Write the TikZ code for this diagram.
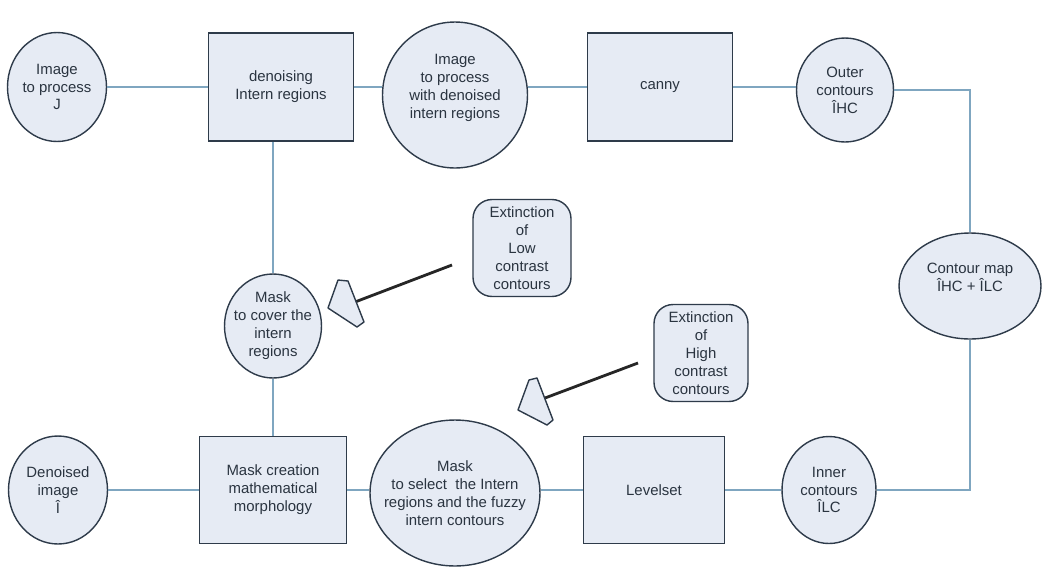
\documentclass[tikz,border=0pt]{standalone}
\usepackage{fontspec}
\setmainfont{Liberation Sans}
\usetikzlibrary{shapes.geometric}
\definecolor{boxfill}{HTML}{E6EBF4}
\definecolor{linkcol}{HTML}{7FA6C0}
\definecolor{edgecol}{HTML}{2E3B4A}
\definecolor{txtcol}{HTML}{2A3440}
\tikzset{
  base/.style={draw=edgecol,fill=boxfill,line width=0.8pt,inner sep=0pt,align=center,
    text=txtcol,font=\fontsize{8.5}{10.2}\selectfont},
  disc/.style={base,ellipse},
  stage/.style={base,rectangle},
  note/.style={base,rectangle,rounded corners=0.38cm},
  link/.style={draw=linkcol,line width=1pt},
  pointer/.style={draw=black!85,line width=1.6pt},
  tip/.style={draw=edgecol,fill=boxfill,line width=0.8pt,line join=round}
}
\begin{document}
\begin{tikzpicture}[x=0.02cm,y=-0.02cm]
                \useasboundingbox (0,0) rectangle (1042,569);

                \node[disc,minimum width=1.98cm,minimum height=2.18cm] (imgJ) at (57,87) {Image\\to process\\J};
                \node[stage,minimum width=2.9cm,minimum height=2.16cm] (deno) at (281,87) {denoising\\Intern regions};
                \node[disc,minimum width=2.9cm,minimum height=2.92cm] (imgD) at (455,95) {Image\\to process\\with denoised\\intern regions\\ ~};
                \node[stage,minimum width=2.9cm,minimum height=2.16cm] (canny) at (660,87) {canny};
                \node[disc,minimum width=1.94cm,minimum height=2.08cm] (outer) at (845,90) {Outer\\contours\\ÎHC};
                \node[disc,minimum width=2.84cm,minimum height=2.12cm] (cmap) at (970,286) {Contour map\\ÎHC + ÎLC\\ ~};
                \node[disc,minimum width=1.88cm,minimum height=2.14cm] (inner) at (829,490) {Inner\\contours\\ÎLC};
                \node[stage,minimum width=2.82cm,minimum height=2.14cm] (level) at (654,490) {Levelset};
                \node[disc,inner xsep=-7pt,minimum width=3.4cm,minimum height=2.92cm] (msel) at (455,493) {Mask\\to select\ \ the Intern\\regions and the fuzzy\\intern contours};
                \node[stage,minimum width=2.94cm,minimum height=2.14cm] (mcre) at (273,490) {Mask creation\\mathematical\\morphology};
                \node[disc,minimum width=1.98cm,minimum height=2.16cm] (dimg) at (58,490) {Denoised\\image\\Î};
                \node[disc,inner xsep=-3pt,minimum width=1.94cm,minimum height=2.08cm] (mcov) at (273,326) {Mask\\to cover the\\intern\\regions};
                \node[note,minimum width=1.96cm,minimum height=1.94cm] (extlow) at (522,248) {Extinction\\of\\Low\\contrast\\contours};
                \node[note,minimum width=1.88cm,minimum height=1.94cm] (exthigh) at (701,353) {Extinction\\of\\High\\contrast\\contours};

                \draw[link] (imgJ) -- (deno);
                \draw[link] (deno.east) -- (imgD.west |- deno.east);
                \draw[link] (imgD.east |- canny.west) -- (canny.west);
                \draw[link] (canny.east) -- (canny.east -| outer.west);
                \draw[link] (outer.east) -| (cmap.north);
                \draw[link] (cmap.south) |- (inner.east);
                \draw[link] (inner) -- (level);
                \draw[link] (level.west) -- (level.west -| msel.east);
                \draw[link] (mcre.east) -- (mcre.east -| msel.west);
                \draw[link] (dimg) -- (mcre);
                \draw[link] (mcre.north) -- (mcov.south);
                \draw[link] (mcov.north) -- (mcov.north |- deno.south);

                \coordinate (lowfrom) at (452,265);
                \coordinate (lowto) at (355,302);
                \coordinate (highfrom) at (638,363);
                \coordinate (highto) at (545,398);
                \draw[pointer] (lowfrom) -- (lowto);
                \draw[pointer] (highfrom) -- (highto);
                \draw[tip] (338,280) -- (348,281) -- (364,322) -- (357,327) -- (328,308) -- cycle;
                \draw[tip] (529,380) -- (537,378) -- (553,420) -- (547,425) -- (518,410) -- cycle;
            \end{tikzpicture}
\end{document}
